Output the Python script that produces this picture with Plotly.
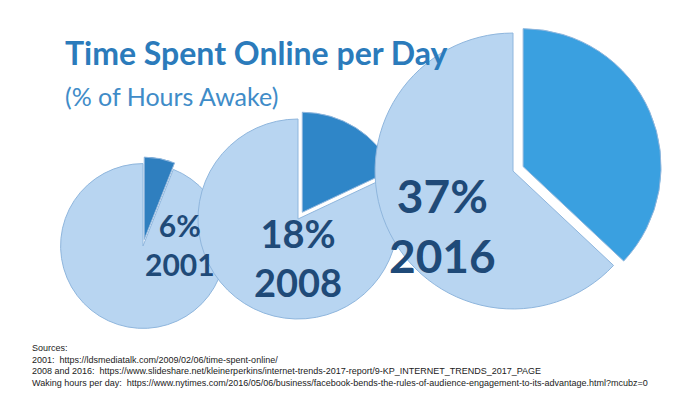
import plotly.graph_objects as go

years = ["2001", "2008", "2016"]
online_pct = [6, 18, 37]
label_text = ["<b>6%<br>2001</b>", "<b>18%<br>2008</b>", "<b>37%<br>2016</b>"]
sources = [
    "Sources:",
    "2001:  https://ldsmediatalk.com/2009/02/06/time-spent-online/",
    "2008 and 2016:  https://www.slideshare.net/kleinerperkins/internet-trends-2017-report/9-KP_INTERNET_TRENDS_2017_PAGE",
    "Waking hours per day:  https://www.nytimes.com/2016/05/06/business/facebook-bends-the-rules-of-audience-engagement-to-its-advantage.html?mcubz=0",
]

# pie boxes in pixels (x0, x1, top, bottom)
boxes = [(46, 224, 142, 334), (182, 398, 94, 328), (356, 654, 2, 324)]
dark = ["#2f7fbf", "#2f86c8", "#3aa0e0"]
fonts = [30, 38, 46]
label_pos = [(135, 276), (290, 249), (490, 217)]

fig = go.Figure()
for i, yr in enumerate(years):
    x0, x1, t, b = boxes[i]
    fig.add_trace(go.Pie(
        values=[online_pct[i], 100 - online_pct[i]],
        labels=["Online", "Offline"],
        sort=False, direction="clockwise", rotation=0,
        pull=[0.08, 0],
        marker=dict(colors=[dark[i], "#b8d5f1"], line=dict(color="#8fb6dd", width=1)),
        textinfo="none", hoverinfo="label+percent", showlegend=False,
        domain=dict(x=[x0 / 700, x1 / 700], y=[1 - b / 400, 1 - t / 400]),
    ))
    lx, ly = label_pos[i]
    fig.add_annotation(x=lx / 700, y=1 - ly / 400, xref="paper", yref="paper",
                       text=label_text[i], showarrow=False,
                       font=dict(family="Lato", size=fonts[i], color="#1f4a78"))

fig.add_annotation(x=55 / 700, y=1 - 23 / 400, xref="paper", yref="paper", xanchor="left",
                   text="<b>Time Spent Online per Day</b>", showarrow=False,
                   font=dict(family="Lato", size=32, color="#2b7bbb"))
fig.add_annotation(x=55 / 700, y=1 - 71 / 400, xref="paper", yref="paper", xanchor="left",
                   text="(% of Hours Awake)", showarrow=False,
                   font=dict(family="Lato", size=25, color="#3f8cc8"))
fig.add_annotation(x=22 / 700, y=1 - 333 / 400, xref="paper", yref="paper",
                   xanchor="left", yanchor="top", align="left",
                   text="<br>".join(sources), showarrow=False,
                   font=dict(family="Liberation Sans", size=9, color="#222"))

fig.update_layout(width=700, height=400, margin=dict(l=0, r=0, t=0, b=0),
                  paper_bgcolor="white", plot_bgcolor="white")
fig.write_html("out.html")
